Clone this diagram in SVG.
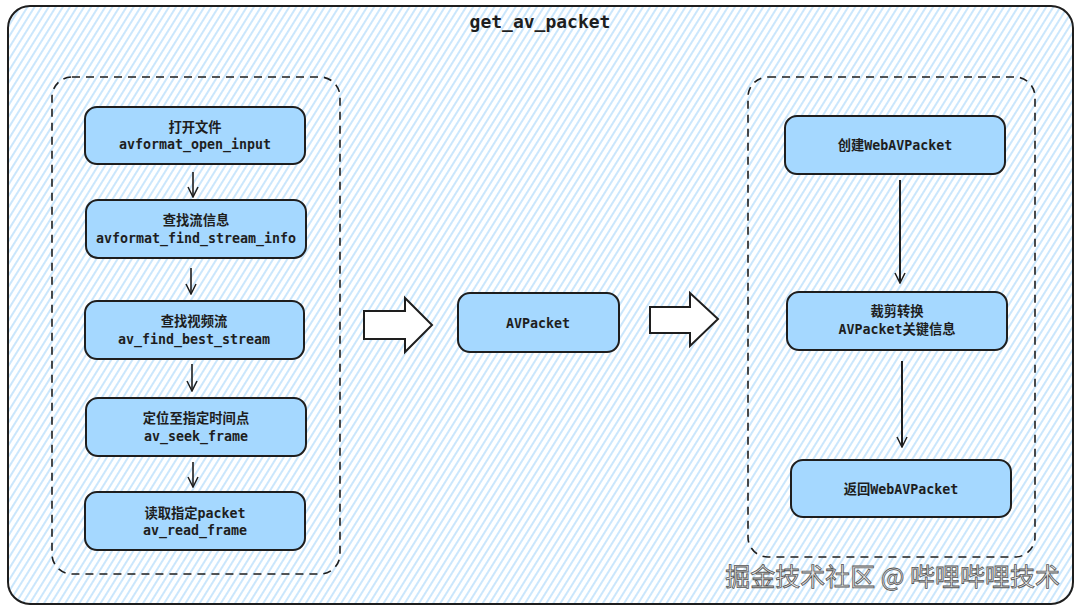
<svg xmlns="http://www.w3.org/2000/svg" width="1080" height="610" viewBox="0 0 1080 610">
<defs>
<pattern id="hatch" width="6" height="6" patternUnits="userSpaceOnUse" patternTransform="rotate(32)">
<line x1="3" y1="0" x2="3" y2="6" stroke="#9fd2fa" stroke-width="1.1"/>
</pattern>
<marker id="ah" viewBox="0 0 12 12" refX="11" refY="6" markerWidth="12" markerHeight="12" markerUnits="userSpaceOnUse" orient="auto">
<path d="M1,1 L11,6 L1,11" fill="none" stroke="#1e1e1e" stroke-width="1.5"/>
</marker>
</defs>
<style>
.node{fill:#a5d8ff;stroke:#1e1e1e;stroke-width:2}
.grp{fill:none;stroke:#1e1e1e;stroke-width:1.6;stroke-dasharray:8 6}
.t{font-family:"DejaVu Sans Mono","Noto Sans CJK SC",monospace;font-size:13.3px;fill:#1e1e1e;text-anchor:middle;font-weight:600}
.conn{stroke:#1e1e1e;stroke-width:1.6;fill:none}
.conn2{stroke:#1e1e1e;stroke-width:2;fill:none}
.hollow{fill:#ffffff;stroke:#1e1e1e;stroke-width:2;stroke-linejoin:miter}
</style>
<rect x="0" y="0" width="1080" height="610" fill="#ffffff"/>
<g id="frame">
<rect x="8" y="6" width="1065" height="598" rx="22" fill="url(#hatch)" stroke="#1e1e1e" stroke-width="2"/>
<text x="540" y="28" style="font-family:'DejaVu Sans Mono',monospace;font-size:18px;font-weight:600;fill:#1e1e1e;text-anchor:middle">get_av_packet</text>
</g>
<g id="group-left"><rect class="grp" x="52" y="77" width="288" height="497" rx="20"/></g>
<g id="group-right"><rect class="grp" x="748" y="77" width="287" height="480" rx="20"/></g>
<g id="n1"><rect class="node" x="85" y="107" width="220" height="57" rx="12"/><text class="t" x="195" y="132">打开文件</text><text class="t" x="195" y="149">avformat_open_input</text></g>
<g id="n2"><rect class="node" x="86" y="200" width="220" height="58" rx="12"/><text class="t" x="196" y="225">查找流信息</text><text class="t" x="196" y="243">avformat_find_stream_info</text></g>
<g id="n3"><rect class="node" x="85" y="301" width="219" height="58" rx="12"/><text class="t" x="194" y="326">查找视频流</text><text class="t" x="194" y="344">av_find_best_stream</text></g>
<g id="n4"><rect class="node" x="86" y="398" width="220" height="58" rx="12"/><text class="t" x="196" y="423">定位至指定时间点</text><text class="t" x="196" y="441">av_seek_frame</text></g>
<g id="n5"><rect class="node" x="85" y="492" width="220" height="58" rx="12"/><text class="t" x="195" y="518">读取指定packet</text><text class="t" x="195" y="535">av_read_frame</text></g>
<g id="n6"><rect class="node" x="458" y="293" width="161" height="59" rx="12"/><text class="t" x="538" y="328">AVPacket</text></g>
<g id="n7"><rect class="node" x="785" y="116" width="220" height="58" rx="12"/><text class="t" x="895" y="150">创建WebAVPacket</text></g>
<g id="n8"><rect class="node" x="787" y="292" width="220" height="58" rx="12"/><text class="t" x="897" y="316">裁剪转换</text><text class="t" x="897" y="334">AVPacket关键信息</text></g>
<g id="n9"><rect class="node" x="791" y="460" width="220" height="57" rx="12"/><text class="t" x="901" y="494">返回WebAVPacket</text></g>
<g id="connectors">
<line class="conn" x1="193" y1="172" x2="193" y2="197" marker-end="url(#ah)"/>
<line class="conn" x1="191" y1="268" x2="191" y2="294" marker-end="url(#ah)"/>
<line class="conn" x1="192" y1="364" x2="192" y2="391" marker-end="url(#ah)"/>
<line class="conn" x1="193" y1="462" x2="193" y2="487" marker-end="url(#ah)"/>
<line class="conn2" x1="900" y1="180" x2="900" y2="283" marker-end="url(#ah)"/>
<line class="conn2" x1="902" y1="361" x2="902" y2="447" marker-end="url(#ah)"/>
<polygon class="hollow" points="364,311 405,311 405,298 432,325 405,352 405,339 364,339"/>
<polygon class="hollow" points="650,307 690,307 690,293 718,319 690,346 690,333 650,333"/>
</g>
<text x="1060" y="586" style="font-family:'Noto Sans CJK SC',sans-serif;font-size:25px;fill:#e6e6e6;stroke:#555;stroke-width:0.8;text-anchor:end">掘金技术社区 @ 哔哩哔哩技术</text>
</svg>
